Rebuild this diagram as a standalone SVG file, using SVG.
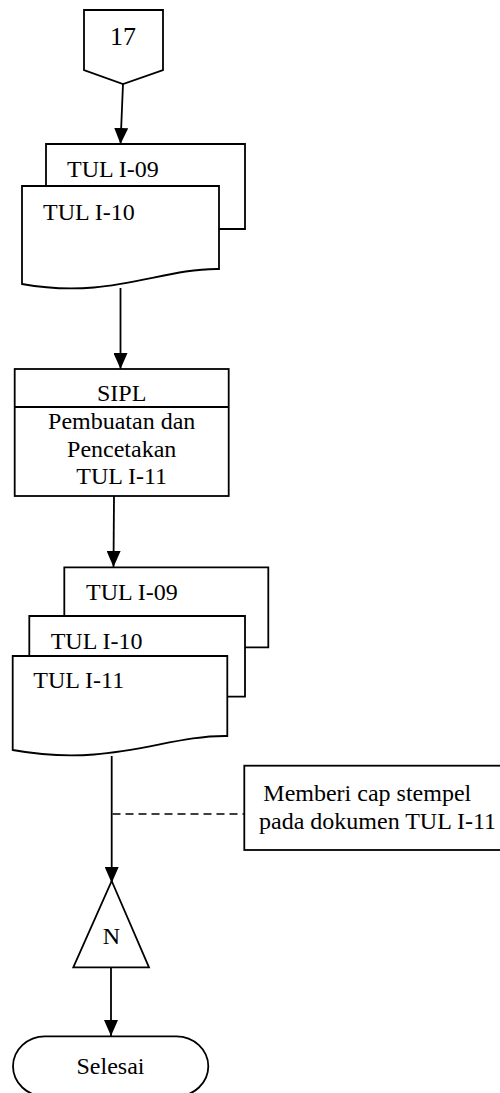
<svg xmlns="http://www.w3.org/2000/svg" width="500" height="1093" viewBox="0 0 500 1093">
  <style>
    .shape { fill: #ffffff; stroke: #000000; stroke-width: 1.8; }
    .edge { fill: none; stroke: #000000; stroke-width: 1.8; }
    .dash { fill: none; stroke: #000000; stroke-width: 1.6; stroke-dasharray: 8 5; }
    .t { font-family: "Liberation Serif", "Times New Roman", serif; font-size: 24px; fill: #000000; }
    .c { text-anchor: middle; }
  </style>
  <defs>
    <marker id="arrow" markerUnits="userSpaceOnUse" markerWidth="16" markerHeight="14" refX="16" refY="7" orient="auto">
      <path d="M0,0 L16,7 L0,14 Z" fill="#000000"/>
    </marker>
  </defs>

  <rect width="500" height="1093" fill="#ffffff"/>

  <!-- off-page connector 17 -->
  <g id="offpage-17">
    <path class="shape" d="M84,10 L163,10 L163,70 L123,84 L84,70 Z"/>
    <text class="t c" x="123" y="45" style="font-size:26px">17</text>
  </g>

  <!-- input documents TUL I-09 / TUL I-10 -->
  <g id="docs-in">
    <path class="shape" d="M46,186 L46,144 L245,144 L245,229 L219,229"/>
    <text class="t" x="67" y="177">TUL I-09</text>
    <path class="shape" d="M22,186 L219,186 L219,269 C160,268 110,300 22,284 Z"/>
    <text class="t" x="43" y="220">TUL I-10</text>
  </g>

  <!-- process SIPL -->
  <g id="sipl">
    <rect class="shape" x="14.7" y="369" width="214" height="127"/>
    <line class="edge" x1="14.7" y1="407" x2="228.7" y2="407"/>
    <text class="t c" x="121.7" y="401">SIPL</text>
    <text class="t c" x="121.7" y="429">Pembuatan dan</text>
    <text class="t c" x="121.7" y="457">Pencetakan</text>
    <text class="t c" x="121.7" y="484">TUL I-11</text>
  </g>

  <!-- output documents TUL I-09 / TUL I-10 / TUL I-11 -->
  <g id="docs-out">
    <path class="shape" d="M64.3,616 L64.3,567.3 L268.3,567.3 L268.3,647.3 L245,647.3"/>
    <text class="t" x="86" y="600">TUL I-09</text>
    <path class="shape" d="M29.3,656 L29.3,616 L245,616 L245,696.7 L227.3,696.7"/>
    <text class="t" x="50.7" y="649.3">TUL I-10</text>
    <path class="shape" d="M12.7,656 L227.3,656 L227.3,736 C165,735 112,768 12.7,750 Z"/>
    <text class="t" x="33.3" y="688.3">TUL I-11</text>
  </g>

  <!-- annotation -->
  <g id="note">
    <rect class="shape" x="244.3" y="765.7" width="270" height="84.3"/>
    <text class="t" x="263.3" y="800.7">Memberi cap stempel</text>
    <text class="t" x="259" y="829">pada dokumen TUL I-11</text>
  </g>

  <!-- offline file N -->
  <g id="file-n">
    <path class="shape" d="M111.7,881 L149,967.3 L73.3,967.3 Z"/>
    <text class="t c" x="111.5" y="944.3">N</text>
  </g>

  <!-- terminator -->
  <g id="selesai">
    <rect class="shape" x="13" y="1036.3" width="195.3" height="60" rx="32" ry="30"/>
    <text class="t c" x="110.5" y="1074">Selesai</text>
  </g>

  <!-- connectors -->
  <g id="connectors">
    <line class="edge" x1="123" y1="84" x2="120.5" y2="144" marker-end="url(#arrow)"/>
    <line class="edge" x1="120.5" y1="288" x2="120.5" y2="369" marker-end="url(#arrow)"/>
    <line class="edge" x1="114" y1="496" x2="113.5" y2="567" marker-end="url(#arrow)"/>
    <line class="edge" x1="111.7" y1="756" x2="111.7" y2="883" marker-end="url(#arrow)"/>
    <line class="edge" x1="111" y1="967.3" x2="111" y2="1036" marker-end="url(#arrow)"/>
    <line class="dash" x1="112.5" y1="814" x2="244.3" y2="814"/>
  </g>
</svg>
